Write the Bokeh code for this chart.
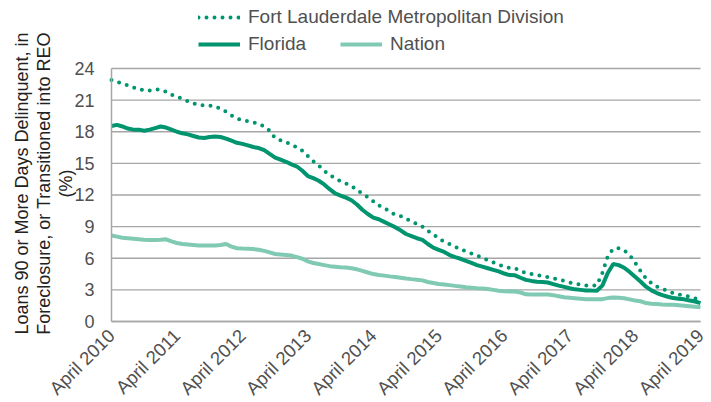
import math
from bokeh.plotting import figure
from bokeh.models import Legend, LegendItem, FixedTicker, ColumnDataSource, Label
from bokeh.embed import file_html
from bokeh.resources import INLINE

# Month index 0 = April 2010 ... 108 = April 2019
months = list(range(109))

fort_lauderdale = [
    22.9, 22.7, 22.6, 22.4, 22.2, 22.1, 21.9, 21.9, 22.0, 22.0,
    21.8, 21.5, 21.35, 21.1, 20.9, 20.7, 20.55, 20.5, 20.5, 20.35,
    20.2, 19.9, 19.55, 19.25, 19.1, 19.0, 18.9, 18.75, 18.5, 18.1,
    17.4, 17.2, 17.0, 16.8, 16.5, 16.2, 15.7, 15.2, 14.8, 14.3,
    13.9, 13.6, 13.3, 13.1, 12.85, 12.5, 12.1, 11.8, 11.4, 11.0,
    10.8, 10.4, 10.15, 10.0, 9.75, 9.5, 9.25, 9.0, 8.6, 8.25,
    7.9, 7.55, 7.35, 7.1, 6.85, 6.65, 6.45, 6.25, 6.05, 5.8,
    5.6, 5.4, 5.2, 5.08, 5.05, 4.8, 4.6, 4.5, 4.4, 4.3,
    4.2, 4.1, 4.0, 3.85, 3.7, 3.6, 3.5, 3.42, 3.4, 3.45,
    4.6, 6.2, 6.9, 6.95, 6.75, 6.3, 5.6, 4.8, 4.1, 3.65,
    3.3, 3.1, 2.9, 2.7, 2.55, 2.45, 2.35, 2.2, 2.05,
]

florida = [
    18.55, 18.65, 18.5, 18.3, 18.2, 18.2, 18.1, 18.2, 18.35, 18.5,
    18.4, 18.2, 18.0, 17.85, 17.75, 17.6, 17.45, 17.4, 17.5, 17.55,
    17.5, 17.35, 17.15, 16.95, 16.85, 16.7, 16.55, 16.45, 16.25, 15.9,
    15.55, 15.35, 15.15, 14.9, 14.7, 14.3, 13.8, 13.6, 13.35, 13.0,
    12.55, 12.15, 11.95, 11.75, 11.5, 11.1, 10.6, 10.2, 9.85, 9.7,
    9.45, 9.2, 8.95, 8.65, 8.3, 8.1, 7.9, 7.75, 7.35, 7.0,
    6.8, 6.6, 6.3, 6.1, 5.95, 5.75, 5.55, 5.35, 5.2, 5.05,
    4.9, 4.75, 4.55, 4.4, 4.38, 4.15, 3.95, 3.85, 3.78, 3.75,
    3.7, 3.55, 3.4, 3.28, 3.15, 3.05, 3.0, 2.95, 2.93, 2.92,
    3.4, 4.6, 5.45, 5.35, 5.1, 4.7, 4.25, 3.8, 3.3, 2.95,
    2.7, 2.5, 2.35, 2.22, 2.15, 2.1, 2.0, 1.9, 1.75,
]

nation = [
    8.15, 8.05, 7.95, 7.9, 7.85, 7.8, 7.75, 7.72, 7.72, 7.75,
    7.8, 7.6, 7.45, 7.35, 7.3, 7.25, 7.2, 7.2, 7.2, 7.2,
    7.25, 7.35, 7.1, 6.95, 6.92, 6.9, 6.87, 6.8, 6.7, 6.55,
    6.4, 6.35, 6.3, 6.25, 6.1, 5.95, 5.7, 5.55, 5.45, 5.35,
    5.25, 5.2, 5.15, 5.12, 5.05, 4.95, 4.8, 4.65, 4.5, 4.42,
    4.35, 4.28, 4.22, 4.15, 4.08, 4.02, 3.97, 3.9, 3.75, 3.65,
    3.55, 3.5, 3.45, 3.38, 3.32, 3.25, 3.2, 3.15, 3.12, 3.08,
    3.0, 2.92, 2.87, 2.85, 2.85, 2.75, 2.58, 2.55, 2.55, 2.55,
    2.55, 2.5, 2.4, 2.3, 2.25, 2.2, 2.15, 2.1, 2.1, 2.1,
    2.12, 2.22, 2.28, 2.25, 2.2, 2.1, 2.0, 1.92, 1.75, 1.68,
    1.65, 1.62, 1.6, 1.58, 1.55, 1.5, 1.45, 1.4, 1.35,
]

x_tick_positions = [0, 12, 24, 36, 48, 60, 72, 84, 96, 108]
x_tick_labels = ["April 2010", "April 2011", "April 2012", "April 2013", "April 2014",
                 "April 2015", "April 2016", "April 2017", "April 2018", "April 2019"]
y_ticks = [0, 3, 6, 9, 12, 15, 18, 21, 24]
y_title = "Loans 90 or More Days Delinquent, in\nForeclosure, or Transitioned into REO\n(%)"

series_names = ["Fort Lauderdale Metropolitan Division", "Florida", "Nation"]

DARK = "#00946f"
LIGHT = "#80c9b3"
GRID = "#a6a6a6"
TEXT = "#505050"
FONT = "Liberation Sans"

src = ColumnDataSource(dict(m=months, ftl=fort_lauderdale, fl=florida, nat=nation))
grid_src = ColumnDataSource(dict(
    left=[months[0]] * len(y_ticks), right=[months[-1]] * len(y_ticks),
    y=y_ticks))

# The frame covers the whole canvas; the axes sit at x=0 / y=0 inside it so that
# the slanted date labels, the y title and the legend all have room.
p = figure(width=711, height=402, output_backend="svg", toolbar_location=None,
           x_range=(-20.353, 110.017), y_range=(-7.684, 30.45))
p.min_border_left = 0
p.min_border_right = 0
p.min_border_top = 0
p.min_border_bottom = 0
p.outline_line_color = None
p.background_fill_color = "white"
p.xgrid.grid_line_color = None
p.ygrid.grid_line_color = None

# horizontal grid lines spanning the data's month range (thin bars, ~1.5px tall)
p.hbar(y="y", left="left", right="right", height=0.14, source=grid_src,
       fill_color=GRID, line_color=None)

r_nat = p.line("m", "nat", source=src, line_color=LIGHT, line_width=4)
r_fl = p.line("m", "fl", source=src, line_color=DARK, line_width=4)
r_ftl = p.line("m", "ftl", source=src, line_color=DARK, line_width=4,
               line_dash="0 8", line_cap="round")

xax = p.xaxis[0]
yax = p.yaxis[0]

xax.ticker = FixedTicker(ticks=x_tick_positions)
xax.fixed_location = 0
xax.bounds = (x_tick_positions[0], x_tick_positions[-1])
xax.major_label_overrides = {pos: lab for pos, lab in zip(x_tick_positions, x_tick_labels)}
xax.major_label_orientation = math.pi / 4
xax.major_label_text_font_size = "18.5px"
xax.major_label_standoff = 5

yax.ticker = FixedTicker(ticks=y_ticks)
yax.fixed_location = 0
yax.bounds = (y_ticks[0], y_ticks[-1])
yax.major_label_text_font_size = "18px"
yax.major_label_standoff = 11

for ax in (xax, yax):
    ax.axis_line_color = GRID
    ax.axis_line_width = 1.5
    ax.major_tick_line_color = None
    ax.minor_tick_line_color = None
    ax.major_label_text_font = FONT
    ax.major_label_text_color = TEXT

ytitle = Label(x=43, y=219, x_units="screen", y_units="screen", text=y_title,
               angle=math.pi / 2, text_align="center", text_baseline="middle",
               text_font=FONT, text_font_size="18px", text_color="#222222",
               text_line_height=1.1)
p.add_layout(ytitle)

def make_legend(items, loc):
    lg = Legend(items=items, orientation="horizontal", location=loc)
    lg.label_text_font = FONT
    lg.label_text_font_size = "19px"
    lg.label_text_color = TEXT
    lg.glyph_width = 42
    lg.glyph_height = 20
    lg.label_height = 20
    lg.label_standoff = 8
    lg.spacing = 34
    lg.padding = 0
    lg.margin = 0
    lg.border_line_color = None
    lg.background_fill_alpha = 0
    return lg

leg1 = make_legend([LegendItem(label=series_names[0], renderers=[r_ftl])], (198, 374))
leg2 = make_legend([LegendItem(label=series_names[1], renderers=[r_fl]),
                    LegendItem(label=series_names[2], renderers=[r_nat])], (198, 347))
p.add_layout(leg1)
p.add_layout(leg2)

open("out.html", "w").write(file_html(p, INLINE))
